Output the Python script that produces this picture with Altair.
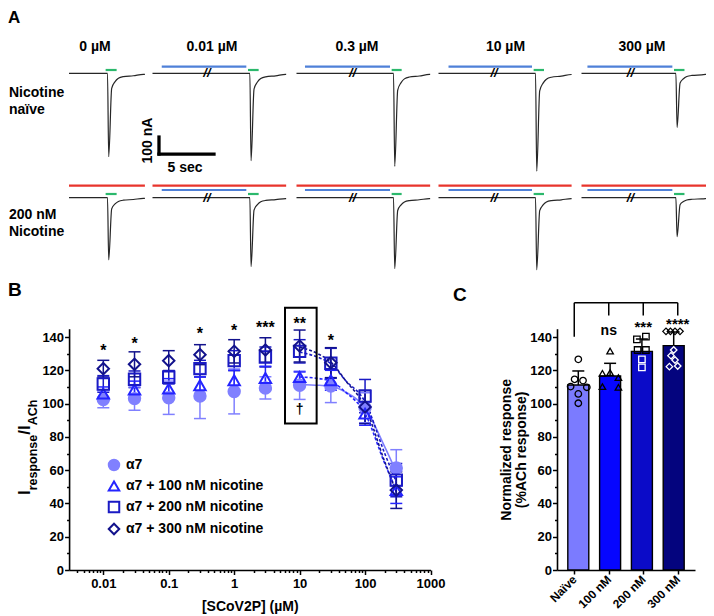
import altair as alt
import pandas as pd

FONT = "Liberation Sans, Arial, Helvetica, sans-serif"

# ======================= DATA =======================
# ---- Panel A: example current traces ----
conc_titles = ["0 µM", "0.01 µM", "0.3 µM", "10 µM", "300 µM"]
row_labels_top = ["Nicotine", "naïve"]
row_labels_bottom = ["200 nM", "Nicotine"]
seg_len_s = [6.9, 12.15, 12.15, 12.1, 12.1]
ach_on_s = [3.33, 8.68, 8.65, 8.65, 8.41]
ach_len_s = [1.0, 0.97, 0.91, 0.94, 0.95]
scov_on_s = [None, 0.84, 0.77, 0.91, 0.54]
break_s = [None, 4.95, 5.1, 5.05, 4.45]
peak_naive_nA = [491, 514, 547, 576, 318]
peak_nic_nA = [366, 406, 418, 424, 229]
resp_t_s = [0.0, 0.17, 0.28, 0.55, 0.86, 1.16, 1.61, 2.52, 3.43]
resp_frac = [0.0, 0.0, -1.0, -0.18, -0.10, -0.06, -0.04, -0.029, -0.012]
scalebar_s = 5
scalebar_nA = 100

# ---- Panel B: concentration-response ----
b_series = ["α7", "α7 + 100 nM nicotine", "α7 + 200 nM nicotine", "α7 + 300 nM nicotine"]
b_conc = [0.01, 0.03, 0.1, 0.3, 1, 3, 10, 30, 100, 300]
b_mean_a7 = [102.5, 103, 103.5, 104.5, 107.3, 109.4, 111, 110.6, 97.5, 61.3]
b_sd_a7 = [5, 7, 10, 13.5, 13.5, 6.7, 8.5, 10, 9, 11]
b_mean_n100 = [106, 108.5, 109, 111, 114, 115.4, 116, 114, 94, 48]
b_sd_n100 = [4, 5, 6, 5, 6, 7, 3, 6, 7, 8]
b_mean_n200 = [111.8, 114.6, 115.8, 121, 125.8, 128, 131.4, 124.2, 104.5, 54]
b_sd_n200 = [5, 5, 4, 5, 6, 6, 7, 9, 10, 10]
b_mean_n300 = [121, 123.6, 125.8, 129.4, 131.4, 132.2, 134.6, 124.6, 98, 48]
b_sd_n300 = [5, 7.5, 6, 6, 7, 7.4, 9.6, 9, 10, 11]
fit_conc = [10, 20, 30, 50, 100, 200, 300]
fit_a7 = [111.5, 111, 110.5, 107, 97.5, 74, 59]
fit_n100 = [116, 115, 113.5, 107, 94, 64, 48]
fit_n200 = [131, 127.5, 124, 114, 101, 70, 53]
fit_n300 = [134, 129.5, 125, 114, 98, 65, 47]
star_conc = [0.01, 0.03, 0.3, 1, 3, 10, 30]
star_text = ["*", "*", "*", "*", "***", "**", "*"]
star_y = [133.8, 138.2, 144.2, 145.8, 147.6, 150.2, 140.2]
box_conc = [5.98, 18.2]
box_y = [88.1, 157.6]
dagger_conc = 10
dagger_y = 96.2

# ---- Panel C: bar chart at 10 µM ----
c_groups = ["Naïve", "100 nM", "200 nM", "300 nM"]
c_mean = [111.2, 116.6, 131.4, 134.8]
c_sd = [8.4, 7.6, 7.4, 8.2]
c_points = [
    [126.6, 114.6, 113.8, 110.2, 109.8, 105.8, 100.2],
    [131.6, 118.2, 118.6, 115.6, 110.2, 109.8],
    [138.6, 140.2, 132.2, 132.2, 126.6, 121.8],
    [143.4, 143.4, 143.4, 143.4, 132.2, 128.8, 126.2, 122.2, 122.6],
]
c_jitter = [
    [0, -3.7, 4.7, -7.7, 8.5, 0, 0],
    [0, -7.7, 0, 8.3, -7.7, 8.3],
    [-5, 4, -4.3, 4, 0, 0],
    [-7.7, -3.3, 1.3, 6.3, 0, -2.7, 1.3, -4.3, 4],
]
c_sig = ["", "ns", "***", "****"]
c_sig_y = [None, 143.2, 148.2, 150.2]
bracket_top = 160.6
bracket_drop = [140.2, 153, 153, 153]

# ======================= LAYOUT =======================
W, H = 698, 606
XAX_OFF = 562 - H
PX_S, PX_NA = 11.0, 0.17
COL_X0 = [61.0, 144.5, 288.5, 430.5, 573.5]
ROW_BASE = [65.3, 189.7]
SCOV_Y = [58.7, 182.0]
ACH_Y = [62.0, 186.0]
NIC_Y = 177.7

B_COL = ["#8080ff", "#2424ff", "#1a1ac4", "#12128c"]
B_FILL = ["#8080ff", "transparent", "transparent", "transparent"]
B_SHAPE = ["circle", "triangle-up", "square", "diamond"]
C_FILL = ["#7b7bff", "#0606ff", "#0b0bc8", "#04047e"]
C_SHAPE = ["circle", "triangle-up", "square", "diamond"]

layers = []


def text_layer(texts, xs, ys, size, align="left", baseline="middle", angle=0, weight="bold"):
    df = pd.DataFrame({"s": texts, "px": xs, "py": ys})
    return alt.Chart(df).mark_text(font=FONT, fontSize=size, fontWeight=weight, align=align,
                                   baseline=baseline, angle=angle, color="black").encode(
        x=alt.X("px:Q", scale=None, axis=None), y=alt.Y("py:Q", scale=None, axis=None), text="s:N")


# ---------------- Panel A ----------------
for r, peaks in enumerate([peak_naive_nA, peak_nic_nA]):
    for c in range(5):
        T, x0, base, on = seg_len_s[c], COL_X0[c], ROW_BASE[r], ach_on_s[c]
        xs = alt.Scale(domain=[0, T], range=[x0, x0 + T * PX_S], nice=False, zero=False)
        ys = alt.Scale(domain=[-700, 150], range=[base + 700 * PX_NA, base - 150 * PX_NA], nice=False, zero=False)
        t = [0.0] + [on + d for d in resp_t_s]
        i = [0.0] + [f * peaks[c] for f in resp_frac]
        if T > t[-1]:
            t.append(T)
            i.append(resp_frac[-1] * peaks[c])
        tr = pd.DataFrame({"t": t, "i": i})
        layers.append(alt.Chart(tr).mark_line(color="#262626", strokeWidth=1.2, interpolate="monotone").encode(
            x=alt.X("t:Q", scale=xs, axis=None), y=alt.Y("i:Q", scale=ys, axis=None)))
        apps = []
        if r == 1:
            apps.append((0.0, T, NIC_Y, "#e8342c"))
        if scov_on_s[c] is not None:
            apps.append((scov_on_s[c], on - 0.15, SCOV_Y[r], "#4f80d8"))
        apps.append((on, on + ach_len_s[c], ACH_Y[r], "#2bb86c"))
        for a, b, py, col in apps:
            layers.append(alt.Chart(pd.DataFrame({"a": [a], "b": [b]})).mark_rule(color=col, strokeWidth=2.2).encode(
                x=alt.X("a:Q", scale=xs, axis=None), x2="b:Q", y=alt.value(py)))
        if break_s[c] is not None:
            layers.append(alt.Chart(pd.DataFrame({"a": [break_s[c]]})).mark_text(
                text="//", font=FONT, fontSize=13, fontWeight="bold", fontStyle="italic", color="black").encode(
                x=alt.X("a:Q", scale=xs, axis=None), y=alt.value(base)))
        if r == 0 and c == 1:
            sb_t0, sb_i0 = 0.59, -475
            sb = pd.DataFrame({"a": [sb_t0], "b": [sb_t0 + scalebar_s], "c": [sb_i0], "d": [sb_i0 + scalebar_nA]})
            layers.append(alt.Chart(sb).mark_rule(color="black", strokeWidth=3.3, strokeCap="square").encode(
                x=alt.X("a:Q", scale=xs, axis=None), x2="b:Q", y=alt.Y("c:Q", scale=ys, axis=None)))
            layers.append(alt.Chart(sb).mark_rule(color="black", strokeWidth=3.3, strokeCap="square").encode(
                x=alt.X("a:Q", scale=xs, axis=None), y=alt.Y("c:Q", scale=ys, axis=None), y2="d:Q"))

layers.append(text_layer(conc_titles, [87, 204, 349, 497.5, 634], [39] * 5, 14, align="center"))
layers.append(text_layer(row_labels_top + row_labels_bottom, [1] * 4, [85, 102, 207, 224], 14))
layers.append(text_layer(["100 nA"], [139.5], [132.5], 14, align="center", angle=270))
layers.append(text_layer(["5 sec"], [177], [160], 14, align="center"))
layers.append(text_layer(["A"], [0], [15], 17, baseline="alphabetic"))

# ---------------- Panel B ----------------
BX = alt.Scale(type="log", domain=[0.003, 1000], range=[61.08, 422.5], nice=False)
BY = alt.Scale(domain=[0, 145], range=[562, 320.7], nice=False, zero=False)

rows = []
for s, m, sd in zip(b_series, [b_mean_a7, b_mean_n100, b_mean_n200, b_mean_n300],
                    [b_sd_a7, b_sd_n100, b_sd_n200, b_sd_n300]):
    for x, mm, ss in zip(b_conc, m, sd):
        rows.append({"series": s, "conc": x, "mean": mm, "lo": mm - ss, "hi": mm + ss})
bdf = pd.DataFrame(rows)
frows = []
for s, v in zip(b_series, [fit_a7, fit_n100, fit_n200, fit_n300]):
    for x, vv in zip(fit_conc, v):
        frows.append({"series": s, "conc": x, "val": vv})
fdf = pd.DataFrame(frows)


def bx(f):
    return alt.X(f, scale=BX, axis=None)


def by(f):
    return alt.Y(f, scale=BY, axis=None)


bcol = alt.Color("series:N", scale=alt.Scale(domain=b_series, range=B_COL), legend=None)
layers.append(alt.Chart(bdf).mark_rule(strokeWidth=1.5).encode(x=bx("conc:Q"), y=by("lo:Q"), y2="hi:Q", color=bcol))
for f in ["lo", "hi"]:
    layers.append(alt.Chart(bdf).mark_tick(orient="horizontal", size=12, thickness=1.5, opacity=1).encode(
        x=bx("conc:Q"), y=by(f + ":Q"), color=bcol))
layers.append(alt.Chart(fdf[fdf.series == b_series[0]]).mark_line(strokeWidth=1.6, interpolate="monotone").encode(
    x=bx("conc:Q"), y=by("val:Q"), color=bcol))
layers.append(alt.Chart(fdf[fdf.series != b_series[0]]).mark_line(strokeWidth=1.6, strokeDash=[3, 2], interpolate="monotone").encode(
    x=bx("conc:Q"), y=by("val:Q"), color=bcol))

leg = alt.Legend(orient="none", legendX=99, legendY=450, title=None, labelFont=FONT, labelFontSize=14,
                 labelFontWeight="bold", labelColor="black", symbolSize=110, symbolStrokeWidth=2,
                 symbolOpacity=1, rowPadding=2, labelOffset=5, padding=0)
layers.append(alt.Chart(bdf).mark_point(filled=False, size=130, strokeWidth=2, opacity=1).encode(
    x=bx("conc:Q"), y=by("mean:Q"),
    color=alt.Color("series:N", scale=alt.Scale(domain=b_series, range=B_COL), legend=leg),
    fill=alt.Fill("series:N", scale=alt.Scale(domain=b_series, range=B_FILL), legend=leg),
    shape=alt.Shape("series:N", scale=alt.Scale(domain=b_series, range=B_SHAPE), legend=leg)))

layers.append(alt.Chart(pd.DataFrame({"conc": star_conc, "y": star_y, "s": star_text})).mark_text(
    font=FONT, fontSize=16, fontWeight="bold", color="black", dy=4).encode(x=bx("conc:Q"), y=by("y:Q"), text="s:N"))
layers.append(alt.Chart(pd.DataFrame({"a": [box_conc[0]], "b": [box_conc[1]], "c": [box_y[0]], "d": [box_y[1]]})).mark_rect(
    fill="transparent", stroke="black", strokeWidth=2).encode(x=bx("a:Q"), x2="b:Q", y=by("c:Q"), y2="d:Q"))
layers.append(alt.Chart(pd.DataFrame({"a": [dagger_conc], "b": [dagger_y]})).mark_text(
    text="†", font=FONT, fontSize=14, fontWeight="bold", color="black").encode(x=bx("a:Q"), y=by("b:Q")))

minor_x = [m * 10.0 ** e for e in range(-3, 3) for m in range(2, 10) if 0.0035 <= m * 10.0 ** e <= 1000]
dummy = pd.DataFrame({"v": [1.0]})
layers.append(alt.Chart(dummy).mark_point(opacity=0, size=0).encode(
    x=alt.X("v:Q", scale=BX, axis=alt.Axis(orient="bottom", offset=XAX_OFF, values=[0.01, 0.1, 1, 10, 100, 1000],
                                           format="~g", tickSize=4.5, labelPadding=3, title="[SCoV2P] (µM)",
                                           titlePadding=9))))
layers.append(alt.Chart(dummy).mark_point(opacity=0, size=0).encode(
    x=alt.X("v:Q", scale=BX, axis=alt.Axis(orient="bottom", offset=XAX_OFF, values=minor_x, labels=False,
                                           domain=False, tickSize=2.5, title=""))))
layers.append(alt.Chart(dummy).mark_point(opacity=0, size=0).encode(
    y=alt.Y("v:Q", scale=BY, axis=alt.Axis(orient="left", offset=-61.08, values=list(range(0, 141, 20)),
                                           tickSize=4.5, labelPadding=1, title=""))))
layers.append(alt.Chart(dummy).mark_point(opacity=0, size=0).encode(
    y=alt.Y("v:Q", scale=BY, axis=alt.Axis(orient="left", offset=-61.08, values=list(range(10, 140, 20)),
                                           labels=False, domain=False, tickSize=2.5, title=""))))
# subscripted y title
layers.append(text_layer(["I"], [21.5], [487], 17, baseline="alphabetic", angle=270))
layers.append(text_layer(["response"], [28.5], [482.3], 12.5, baseline="alphabetic", angle=270))
layers.append(text_layer(["/I"], [21.5], [426.7], 17, baseline="alphabetic", angle=270))
layers.append(text_layer(["ACh"], [28.5], [417.2], 12.5, baseline="alphabetic", angle=270))
layers.append(text_layer(["B"], [0], [288], 19, baseline="alphabetic"))

# ---------------- Panel C ----------------
CX = alt.Scale(domain=c_groups, range=[549, 687], paddingInner=0.34, paddingOuter=0.34)
CY = alt.Scale(domain=[0, 145], range=[562, 320.7], nice=False, zero=False)
cdf = pd.DataFrame({"g": c_groups, "m": c_mean, "hi": [m + s for m, s in zip(c_mean, c_sd)]})


def cx(f):
    return alt.X(f, scale=CX, axis=None)


def cy(f):
    return alt.Y(f, scale=CY, axis=None)


layers.append(alt.Chart(cdf).mark_bar(stroke="black", strokeWidth=1.4).encode(
    x=cx("g:N"), y=cy("m:Q"),
    fill=alt.Fill("g:N", scale=alt.Scale(domain=c_groups, range=C_FILL), legend=None)))
layers.append(alt.Chart(cdf).mark_rule(color="black", strokeWidth=1.5).encode(x=cx("g:N"), y=cy("m:Q"), y2="hi:Q"))
layers.append(alt.Chart(cdf).mark_tick(orient="horizontal", size=12, thickness=1.5, color="black", opacity=1).encode(
    x=cx("g:N"), y=cy("hi:Q")))

prow = []
for g, m, vals, jit in zip(c_groups, c_mean, c_points, c_jitter):
    for v, j in zip(vals, jit):
        inside = g in ("200 nM", "300 nM") and v < m - 1.5
        prow.append({"g": g, "v": v, "jit": j, "pc": "in" if inside else "out"})
pdf_ = pd.DataFrame(prow)
layers.append(alt.Chart(pdf_).mark_point(filled=False, size=42, strokeWidth=1.3, opacity=1).encode(
    x=cx("g:N"), y=cy("v:Q"),
    xOffset=alt.XOffset("jit:Q", scale=alt.Scale(domain=[-10.5, 10.5], range=[0, 21])),
    shape=alt.Shape("g:N", scale=alt.Scale(domain=c_groups, range=C_SHAPE), legend=None),
    stroke=alt.Stroke("pc:N", scale=alt.Scale(domain=["in", "out"], range=["white", "black"]), legend=None)))

brows = [{"seg": "top", "g": c_groups[0], "y": bracket_top, "o": 0},
         {"seg": "top", "g": c_groups[-1], "y": bracket_top, "o": 1}]
for k, (g, d) in enumerate(zip(c_groups, bracket_drop)):
    brows.append({"seg": "v%d" % k, "g": g, "y": bracket_top, "o": 0})
    brows.append({"seg": "v%d" % k, "g": g, "y": d, "o": 1})
layers.append(alt.Chart(pd.DataFrame(brows)).mark_line(color="black", strokeWidth=1.5).encode(
    x=cx("g:N"), y=cy("y:Q"), detail="seg:N", order="o:Q"))

sig = pd.DataFrame({"g": c_groups[1:], "s": c_sig[1:], "y": c_sig_y[1:]})
layers.append(alt.Chart(sig[sig.s == "ns"]).mark_text(font=FONT, fontSize=14, fontWeight="bold", color="black", dy=-1).encode(
    x=cx("g:N"), y=cy("y:Q"), text="s:N"))
layers.append(alt.Chart(sig[sig.s != "ns"]).mark_text(font=FONT, fontSize=15, fontWeight="bold", color="black", dy=4).encode(
    x=cx("g:N"), y=cy("y:Q"), text="s:N"))

cdummy = pd.DataFrame({"g": c_groups, "v": [1.0] * 4})
layers.append(alt.Chart(cdummy).mark_point(opacity=0, size=0).encode(
    x=alt.X("g:N", scale=CX, axis=alt.Axis(orient="bottom", offset=XAX_OFF, labelAngle=315, labelAlign="right",
                                           labelBaseline="middle", labelFontSize=12, tickSize=4, labelPadding=3,
                                           title=""))))
layers.append(alt.Chart(dummy).mark_point(opacity=0, size=0).encode(
    y=alt.Y("v:Q", scale=CY, axis=alt.Axis(orient="left", offset=-549, values=list(range(0, 141, 20)),
                                           tickSize=4.5, labelPadding=1,
                                           title=["Normalized response", "(%ACh response)"],
                                           titleLineHeight=15, titlePadding=1))))
layers.append(alt.Chart(dummy).mark_point(opacity=0, size=0).encode(
    y=alt.Y("v:Q", scale=CY, axis=alt.Axis(orient="left", offset=-549, values=list(range(10, 140, 20)),
                                           labels=False, domain=False, tickSize=2.5, title=""))))
layers.append(text_layer(["C"], [445], [292.7], 19, baseline="alphabetic"))

chart = alt.layer(*layers).resolve_scale(
    x="independent", y="independent", color="independent", fill="independent",
    shape="independent", stroke="independent", xOffset="independent"
).properties(
    width=W, height=H, padding=0, autosize=alt.AutoSizeParams(type="none")
).configure_view(strokeWidth=0).configure_axis(
    labelFont=FONT, labelFontSize=13, labelFontWeight="bold", labelColor="black",
    titleFont=FONT, titleFontSize=14, titleFontWeight="bold", titleColor="black",
    domainColor="black", domainWidth=1.6, tickColor="black", tickWidth=1.5,
    grid=False, labelFlush=False, labelOverlap=False
)

chart.save("out.html", embed_options={"renderer": "svg", "actions": False})
